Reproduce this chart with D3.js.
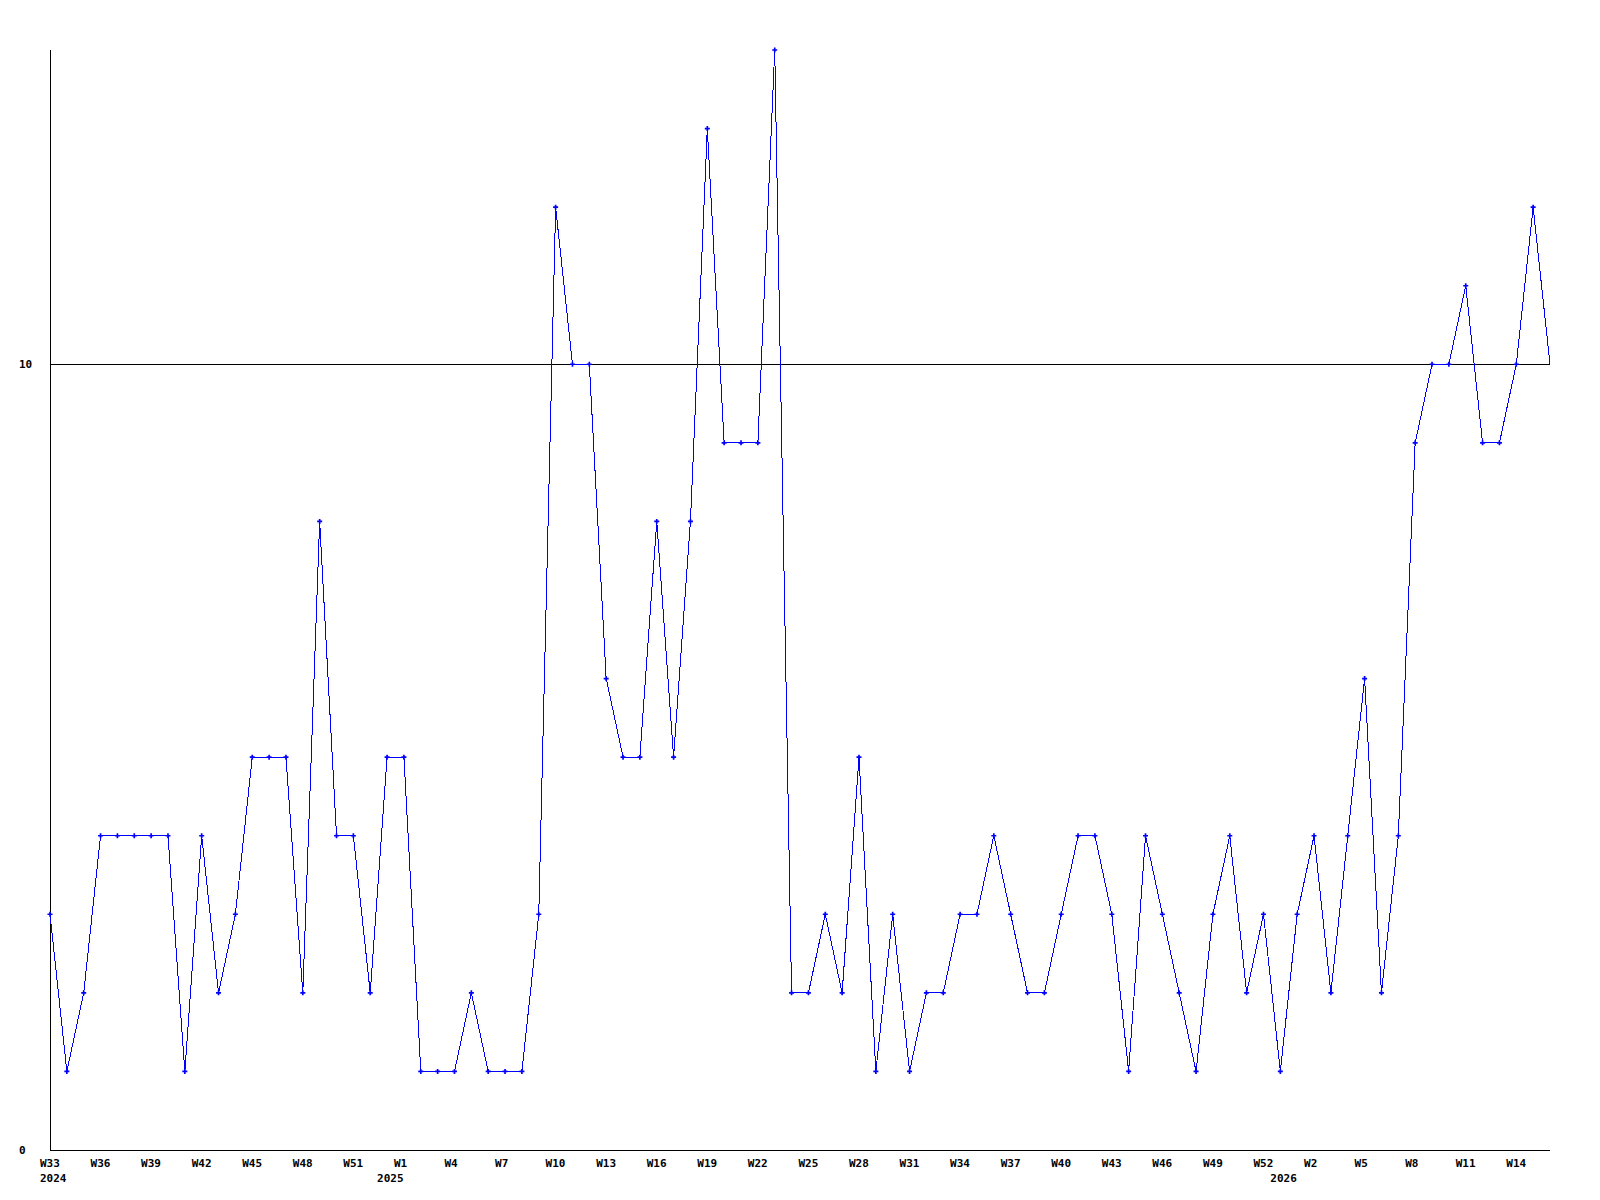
<!DOCTYPE html>
<html>
<head>
<meta charset="utf-8">
<script src="https://cdn.jsdelivr.net/npm/d3@7"></script>
<style>
  body { margin: 0; background: #fff; }
  text { font-family: "DejaVu Sans Mono", monospace; font-weight: bold; font-size: 11px; fill: #000; }
</style>
</head>
<body>
<svg id="chart" width="1600" height="1200"></svg>
<script>
// weekly counts, W33 2024 .. W16 2026
const values = [
  3, 1, 2, 4, 4, 4, 4, 4, 1, 4,
  2, 3, 5, 5, 5, 2, 8, 4, 4, 2,
  5, 5, 1, 1, 1, 2, 1, 1, 1, 3,
  12, 10, 10, 6, 5, 5, 8, 5, 8, 13,
  9, 9, 9, 14, 2, 2, 3, 2, 5, 1,
  3, 1, 2, 2, 3, 3, 4, 3, 2, 2,
  3, 4, 4, 3, 1, 4, 3, 2, 1, 3,
  4, 2, 3, 1, 3, 4, 2, 4, 6, 2,
  4, 9, 10, 10, 11, 9, 9, 10, 12, 10
]

// tick labels every third week, starting at the first point
const weekTicks = ['W33', 'W36', 'W39', 'W42', 'W45', 'W48', 'W51', 'W1', 'W4', 'W7',
  'W10', 'W13', 'W16', 'W19', 'W22', 'W25', 'W28', 'W31', 'W34', 'W37',
  'W40', 'W43', 'W46', 'W49', 'W52', 'W2', 'W5', 'W8', 'W11', 'W14']

// year labels and the index of the week they sit under
const years = ['2024', '2025', '2026']
const yearIndex = [0, 20, 73]

const yTicks = [0, 10]

const svg = d3.select('#chart')
const idx = d3.range(values.length)

const x = d3.scalePoint().domain(idx).range([50, 1550])
const y = d3.scaleLinear().domain([0, 14]).range([1150, 50])

// grid line at 10
svg.append('line')
  .attr('x1', 50).attr('x2', 1550)
  .attr('y1', y(10)).attr('y2', y(10))
  .attr('stroke', '#000').attr('shape-rendering', 'crispEdges')

// axes
svg.append('line')
  .attr('x1', 50).attr('x2', 50)
  .attr('y1', y(14)).attr('y2', y(0))
  .attr('stroke', '#000').attr('shape-rendering', 'crispEdges')
svg.append('line')
  .attr('x1', 50).attr('x2', 1550)
  .attr('y1', y(0)).attr('y2', y(0))
  .attr('stroke', '#000').attr('shape-rendering', 'crispEdges')

svg.selectAll('.ylab')
  .data(yTicks)
  .join('text')
  .attr('class', 'ylab')
  .attr('x', 19)
  .attr('y', d => y(d) + 4)
  .text(d => d)

svg.selectAll('.xlab')
  .data(weekTicks)
  .join('text')
  .attr('class', 'xlab')
  .attr('x', (d, i) => x(i * 3) - 10)
  .attr('y', 1167)
  .text(d => d)

svg.selectAll('.year')
  .data(years)
  .join('text')
  .attr('class', 'year')
  .attr('x', (d, i) => x(yearIndex[i]) - 10)
  .attr('y', 1182)
  .text(d => d)

const line = d3.line()
  .x(i => x(i))
  .y(i => y(values[i]))

svg.append('path')
  .datum(idx)
  .attr('d', line)
  .attr('fill', 'none')
  .attr('stroke', '#0000ff')
  .attr('stroke-width', 1)
  .attr('shape-rendering', 'crispEdges')

// markers on every point but the last
svg.selectAll('.mark')
  .data(idx.slice(0, -1))
  .join('path')
  .attr('class', 'mark')
  .attr('transform', i => `translate(${x(i)},${y(values[i])})`)
  .attr('d', d3.symbol(d3.symbolCross).size(14))
  .attr('fill', '#0000ff')
</script>
</body>
</html>
